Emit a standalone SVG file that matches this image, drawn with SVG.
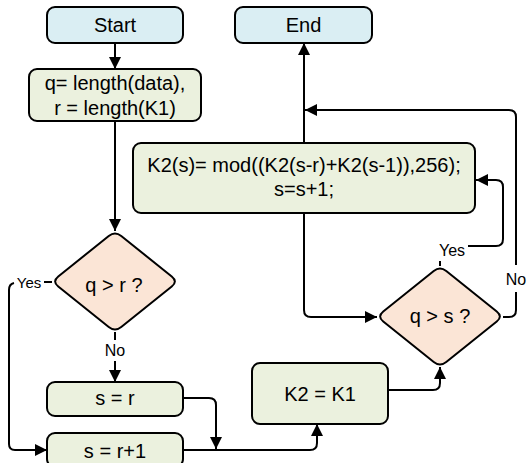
<svg xmlns="http://www.w3.org/2000/svg" width="529" height="463" viewBox="0 0 529 463">
<style>
.term{fill:#DAEEF3;stroke:#000;stroke-width:2}
.proc{fill:#EBF1DE;stroke:#000;stroke-width:2}
.dec{fill:#FBE5D6;stroke:#000;stroke-width:2;stroke-linejoin:round}
.t{font-family:"Liberation Sans",Arial,sans-serif;font-size:20px;fill:#000;text-anchor:middle}
.lbl{font-family:"Liberation Sans",Arial,sans-serif;font-size:16px;fill:#000;text-anchor:middle}
.c{fill:none;stroke:#000;stroke-width:2}
.a{marker-end:url(#arr)}
</style>
<defs>
<marker id="arr" markerUnits="userSpaceOnUse" markerWidth="12" markerHeight="12" viewBox="0 0 12 12" refX="12" refY="6" orient="auto">
<path d="M0,0 L12,6 L0,12 Z" fill="#000"/>
</marker>
<path id="dia" d="M6.25,-45.5 L56.75,-5 Q63,0 56.75,5 L6.25,45.5 Q0,50.5 -6.25,45.5 L-56.75,5 Q-63,0 -56.75,-5 L-6.25,-45.5 Q0,-50.5 6.25,-45.5 Z"/>
</defs>
<g id="connectors">
<path class="c a" d="M115,43 V69"/>
<path class="c a" d="M115,121 V231"/>
<path class="c" d="M115,332 V340"/>
<path class="c a" d="M115,361 V382"/>
<path class="c" d="M52,282 H44"/>
<path class="c a" d="M14,283 Q9,284 9,290 V444 Q9,450 15,450 H47"/>
<path class="c a" d="M183,398 H209 Q216,398 216,405 V449"/>
<path class="c a" d="M183,450 H310 Q317,450 317,443 V424"/>
<path class="c a" d="M388,390 H433 Q440,390 440,383 V367"/>
<path class="c" d="M440,266 V261"/>
<path class="c a" d="M468,246 H496 Q503,246 503,239 V187 Q503,180 496,180 H476"/>
<path class="c" d="M503,317 H509 Q516,317 516,310 V292"/>
<path class="c a" d="M516,265 V117 Q516,110 509,110 H305"/>
<path class="c a" d="M304,213 V310 Q304,317 311,317 H377"/>
<path class="c a" d="M304,143 V43"/>
<text class="lbl" x="115" y="356">No</text>
<text class="lbl" x="29" y="288" style="font-size:15px">Yes</text>
<text class="lbl" x="452" y="256">Yes</text>
<text class="lbl" x="516" y="285">No</text>
</g>
<g id="start">
<rect class="term" x="47" y="7" width="136" height="36" rx="8"/>
<text class="t" x="115" y="32">Start</text>
</g>
<g id="end">
<rect class="term" x="235" y="7" width="137" height="36" rx="8"/>
<text class="t" x="303.5" y="32">End</text>
</g>
<g id="init">
<rect class="proc" x="29" y="69" width="172" height="52" rx="8"/>
<text class="t" x="115" y="90">q= length(data),</text>
<text class="t" x="115" y="115">r = length(K1)</text>
</g>
<g id="loop">
<rect class="proc" x="133" y="143" width="342" height="70" rx="8"/>
<text class="t" x="304" y="172">K2(s)= mod((K2(s-r)+K2(s-1)),256);</text>
<text class="t" x="304" y="196">s=s+1;</text>
</g>
<g id="dec1">
<use href="#dia" class="dec" transform="translate(115,281.5)"/>
<text class="t" x="114" y="292">q &gt; r ?</text>
</g>
<g id="dec2">
<use href="#dia" class="dec" transform="translate(440,316.5)"/>
<text class="t" x="440" y="323">q &gt; s ?</text>
</g>
<g id="sr">
<rect class="proc" x="47" y="382" width="136" height="34" rx="8"/>
<text class="t" x="115" y="405">s = r</text>
</g>
<g id="sr1">
<rect class="proc" x="47" y="433" width="136" height="34" rx="8"/>
<text class="t" x="115" y="458">s = r+1</text>
</g>
<g id="copy">
<rect class="proc" x="252" y="363" width="136" height="61" rx="8"/>
<text class="t" x="320" y="401">K2 = K1</text>
</g>
</svg>
